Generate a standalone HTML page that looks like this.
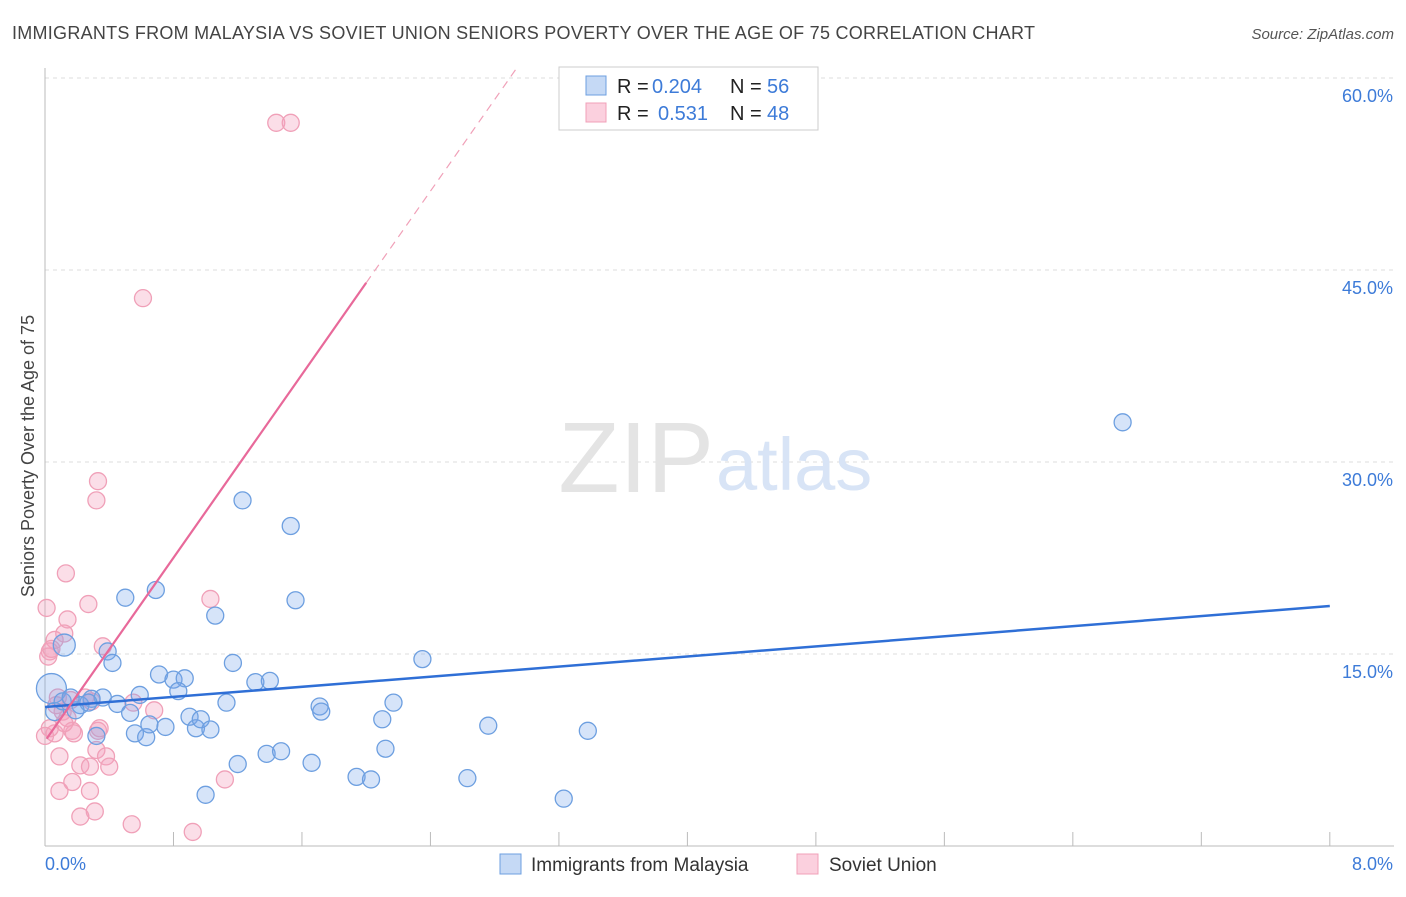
<!DOCTYPE html>
<html><head><meta charset="utf-8"><style>
body{margin:0;background:#fff;font-family:"Liberation Sans",sans-serif;}
svg text{font-family:"Liberation Sans",sans-serif;}
</style></head><body>
<svg width="1406" height="892" xmlns="http://www.w3.org/2000/svg">
<text x="12" y="39" font-size="18" fill="#444" textLength="1023">IMMIGRANTS FROM MALAYSIA VS SOVIET UNION SENIORS POVERTY OVER THE AGE OF 75 CORRELATION CHART</text>
<text x="1394" y="39" font-size="15" fill="#555" text-anchor="end" font-style="italic">Source: ZipAtlas.com</text>
<g id="grid"></g>
<text x="714" y="492" font-size="100" fill="#e4e4e4" text-anchor="end" font-family="Liberation Serif">ZIP</text>
<text x="716" y="490" font-size="74" fill="#d8e4f6">atlas</text>
<line x1="45" y1="68" x2="45" y2="846" stroke="#bbb"/>
<line x1="45" y1="846" x2="1394" y2="846" stroke="#bbb"/>
<g id="pts"></g>
<g id="lines"></g>
<text transform="translate(34,456) rotate(-90)" font-size="18" fill="#444" text-anchor="middle">Seniors Poverty Over the Age of 75</text>
<text x="45" y="870" font-size="18" fill="#3d7bd8">0.0%</text>
<text x="1393" y="870" font-size="18" fill="#3d7bd8" text-anchor="end">8.0%</text>
<g>
<rect x="559" y="67" width="259" height="63" fill="#fff" stroke="#ccc"/>
<rect x="586" y="76" width="20" height="19" fill="#c5d9f5" stroke="#6d9fe0"/>
<rect x="586" y="103" width="20" height="19" fill="#fbd0de" stroke="#f0a0b8"/>
<text x="617" y="93" font-size="20" fill="#222">R =</text>
<text x="652" y="93" font-size="20" fill="#3d7bd8">0.204</text>
<text x="730" y="93" font-size="20" fill="#222">N =</text>
<text x="767" y="93" font-size="20" fill="#3d7bd8">56</text>
<text x="617" y="120" font-size="20" fill="#222">R =</text>
<text x="658" y="120" font-size="20" fill="#3d7bd8">0.531</text>
<text x="730" y="120" font-size="20" fill="#222">N =</text>
<text x="767" y="120" font-size="20" fill="#3d7bd8">48</text>
</g>
<g>
<rect x="500" y="854" width="21" height="20" fill="#c5d9f5" stroke="#6d9fe0"/>
<text x="531" y="871" font-size="19" fill="#333">Immigrants from Malaysia</text>
<rect x="797" y="854" width="21" height="20" fill="#fbd0de" stroke="#f0a0b8"/>
<text x="829" y="871" font-size="19" fill="#333">Soviet Union</text>
</g>
</svg>
<script>
const yTicks=[15,30,45,60];
const xTicks=[0,0.8,1.6,2.4,3.2,4.0,4.8,5.6,6.4,7.2,8.0];
const blueX=[0.04,0.06,0.12,0.39,0.42,0.50,0.69,0.36,0.29,0.45,0.59,0.53,0.32,0.56,0.63,0.65,0.75,0.71,0.80,0.87,0.83,0.90,0.94,0.97,1.03,1.06,1.13,1.17,1.20,1.00,1.23,1.31,1.38,1.40,1.47,1.53,1.56,1.66,1.71,1.72,1.94,2.03,2.10,2.12,2.17,2.35,2.63,2.76,3.23,3.38,6.71,0.22,0.27,0.11,0.19,0.16];
const blueY=[12.3,10.5,15.7,15.2,14.3,19.4,20.0,11.6,11.5,11.1,11.8,10.4,8.6,8.8,8.5,9.5,9.3,13.4,13.0,13.1,12.1,10.1,9.2,9.9,9.1,18.0,11.2,14.3,6.4,4.0,27.0,12.8,7.2,12.9,7.4,25.0,19.2,6.5,10.9,10.5,5.4,5.2,9.9,7.6,11.2,14.6,5.3,9.4,3.7,9.0,33.1,11.0,11.2,11.3,10.6,11.6];
const blueR=[15,9,11,8.5,8.5,8.5,8.5,8.5,8.5,8.5,8.5,8.5,8.5,8.5,8.5,8.5,8.5,8.5,8.5,8.5,8.5,8.5,8.5,8.5,8.5,8.5,8.5,8.5,8.5,8.5,8.5,8.5,8.5,8.5,8.5,8.5,8.5,8.5,8.5,8.5,8.5,8.5,8.5,8.5,8.5,8.5,8.5,8.5,8.5,8.5,8.5,8.5,8.5,8.5,8.5,8.5];
const pinkX=[1.44,1.53,0.61,0.33,0.32,0.13,0.01,0.27,0.14,0.12,0.06,0.36,0.03,0.02,0.04,1.03,0.08,0.16,0.25,0.29,0.11,0.14,0.32,0.38,0.17,0.06,0.18,0.09,0.22,0.28,0.40,0.17,0.09,0.28,0.31,0.22,0.54,0.92,1.12,0.68,0.55,0.03,0.0,0.07,0.33,0.34,0.12];
const pinkY=[56.5,56.5,42.8,28.5,27.0,21.3,18.6,18.9,17.7,16.6,16.1,15.6,15.2,14.8,15.4,19.3,11.6,11.4,11.6,11.3,10.5,10.0,7.5,7.0,9.0,8.8,8.8,7.0,6.3,6.2,6.2,5.0,4.3,4.3,2.7,2.3,1.7,1.1,5.2,10.6,11.2,9.2,8.6,11.0,9.0,9.2,9.6];
const blueLine=[10.86,18.75];
const pinkIntercept=8.2, pinkSlope=17.9;
const X=v=>45+v*160.6, Y=v=>846-v*12.8;
const NS="http://www.w3.org/2000/svg";
function mk(t,a,p){const e=document.createElementNS(NS,t);for(const k in a)e.setAttribute(k,a[k]);document.getElementById(p).appendChild(e);return e;}
yTicks.forEach(v=>{
 const l=mk('line',{x1:45,x2:1394,y1:Y(v),y2:Y(v),stroke:'#ddd','stroke-dasharray':'4,4'},'grid');
 
 
 const t=mk('text',{x:1393,y:Y(v)+24,'font-size':18,fill:'#3d7bd8','text-anchor':'end'},'grid');
 t.textContent=v.toFixed(1)+'%';
 
 
});
xTicks.forEach(v=>{
 const l=mk('line',{x1:X(v),x2:X(v),y1:832,y2:846,stroke:'#bbb'},'grid');
 
 
});
pinkX.forEach((x,i)=>{
 const c=mk('circle',{cx:X(x),cy:Y(pinkY[i]),r:8.5,fill:'rgba(244,160,190,0.35)',stroke:'#f0a0b8','stroke-width':1.3},'pts');
 
 
});
blueX.forEach((x,i)=>{
 const c=mk('circle',{cx:X(x),cy:Y(blueY[i]),r:blueR[i],fill:'rgba(120,165,235,0.3)',stroke:'#6d9fe0','stroke-width':1.3},'pts');
 
 
});
const bl=mk('line',{x1:X(0),y1:Y(blueLine[0]),x2:X(8),y2:Y(blueLine[1]),stroke:'#2f6fd6','stroke-width':2.5},'lines');


const pe=2.0, pd=(61-pinkIntercept)/pinkSlope;
const pl=mk('line',{x1:X(0.01),y1:Y(pinkIntercept+pinkSlope*0.01),x2:X(pe),y2:Y(pinkIntercept+pinkSlope*pe),stroke:'#e8699a','stroke-width':2.2},'lines');


const pdl=mk('line',{x1:X(pe),y1:Y(pinkIntercept+pinkSlope*pe),x2:X(pd),y2:Y(61),stroke:'#f0a0b8','stroke-width':1.2,'stroke-dasharray':'8,6'},'lines');


</script>
</body></html>
